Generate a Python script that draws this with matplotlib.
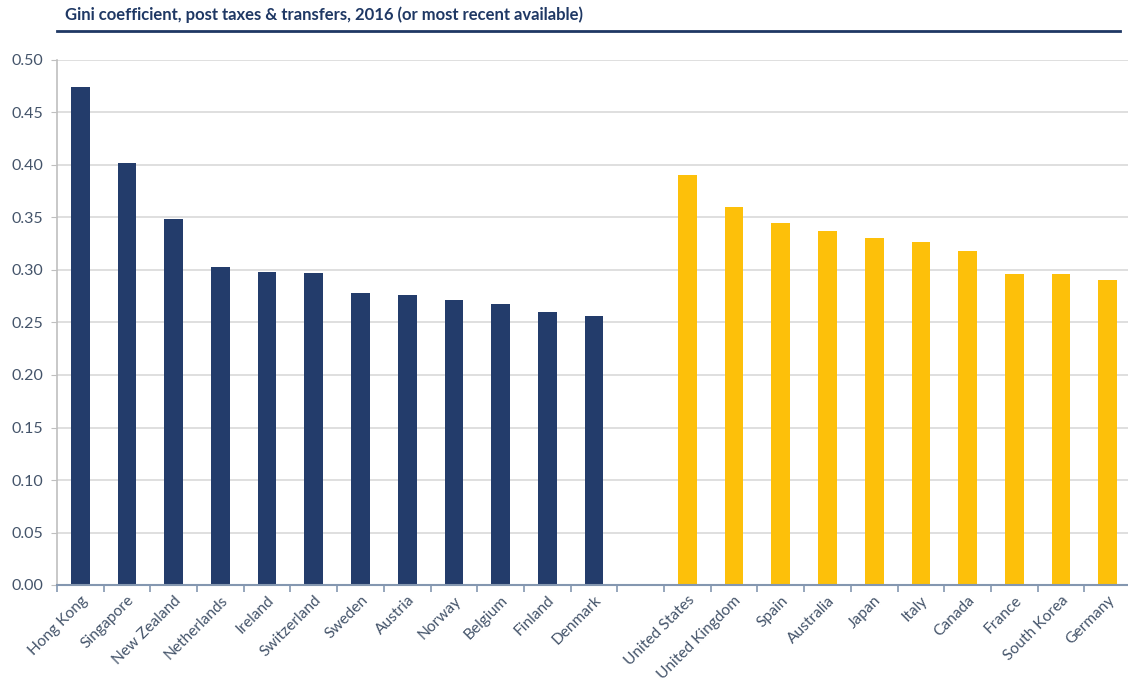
import matplotlib
matplotlib.use("Agg")
import matplotlib.pyplot as plt
import numpy as np

# Data
small_countries = ['Hong Kong', 'Singapore', 'New Zealand', 'Netherlands', 'Ireland',
                   'Switzerland', 'Sweden', 'Austria', 'Norway', 'Belgium', 'Finland', 'Denmark']
small_gini = [0.474, 0.402, 0.349, 0.303, 0.298, 0.297, 0.278, 0.276, 0.271, 0.268, 0.260, 0.256]

large_countries = ['United States', 'United Kingdom', 'Spain', 'Australia', 'Japan',
                   'Italy', 'Canada', 'France', 'South Korea', 'Germany']
large_gini = [0.390, 0.360, 0.345, 0.337, 0.330, 0.327, 0.318, 0.296, 0.296, 0.290]

y_ticks = [0.00, 0.05, 0.10, 0.15, 0.20, 0.25, 0.30, 0.35, 0.40, 0.45, 0.50]

NAVY = '#233C6B'
GOLD = '#FDC00A'
LABEL = '#44546A'
TITLE = 'Gini coefficient, post taxes & transfers, 2016 (or most recent available)'

plt.rcParams['font.family'] = ['Lato', 'DejaVu Sans']

fig = plt.figure(figsize=(11.28, 6.83), dpi=100)
ax = fig.add_axes([57 / 1128, 98 / 683, 1074 / 1128, 525 / 683])

# one empty slot between the two groups
n_small = len(small_countries)
x_small = np.arange(n_small)
x_large = np.arange(len(large_countries)) + n_small + 1
n_slots = n_small + 1 + len(large_countries)

ax.bar(x_small, small_gini, width=0.4, color=NAVY, zorder=3)
ax.bar(x_large, large_gini, width=0.4, color=GOLD, zorder=3)

ax.set_xlim(-0.5, n_slots - 0.5)
ax.set_ylim(0, 0.5)
ax.set_yticks(y_ticks)
ax.set_yticklabels([f'{v:.2f}' for v in y_ticks], color=LABEL, fontsize=11.5)
ax.yaxis.grid(True, color='#D9D9D9', linewidth=1.2, zorder=0)

ax.set_xticks(list(x_small) + list(x_large))
ax.set_xticklabels(small_countries + large_countries, rotation=45, ha='right',
                   rotation_mode='anchor', color=LABEL, fontsize=11.2)
ax.tick_params(axis='x', which='major', length=0, pad=6)
ax.set_xticks(np.arange(n_slots + 1) - 0.5, minor=True)
ax.tick_params(axis='x', which='minor', length=5, width=1.2, color='#8497B0')
ax.tick_params(axis='y', length=4, color='#BFBFBF', pad=6)

for side in ['top', 'right']:
    ax.spines[side].set_visible(False)
ax.spines['left'].set_color('#BFBFBF')
ax.spines['left'].set_linewidth(1.2)
ax.spines['bottom'].set_color('#8497B0')
ax.spines['bottom'].set_linewidth(1.5)
ax.spines['bottom'].set_zorder(4)

# Title and rule beneath it
fig.text(65 / 1128, 1 - 15 / 683, TITLE, color='#1F3864', fontsize=12,
         fontweight='bold', ha='left', va='center')
fig.add_artist(plt.Line2D([57 / 1128, 1120 / 1128], [1 - 31 / 683, 1 - 31 / 683],
                          color='#1F3864', linewidth=2))

fig.savefig('out.png', dpi=100)
